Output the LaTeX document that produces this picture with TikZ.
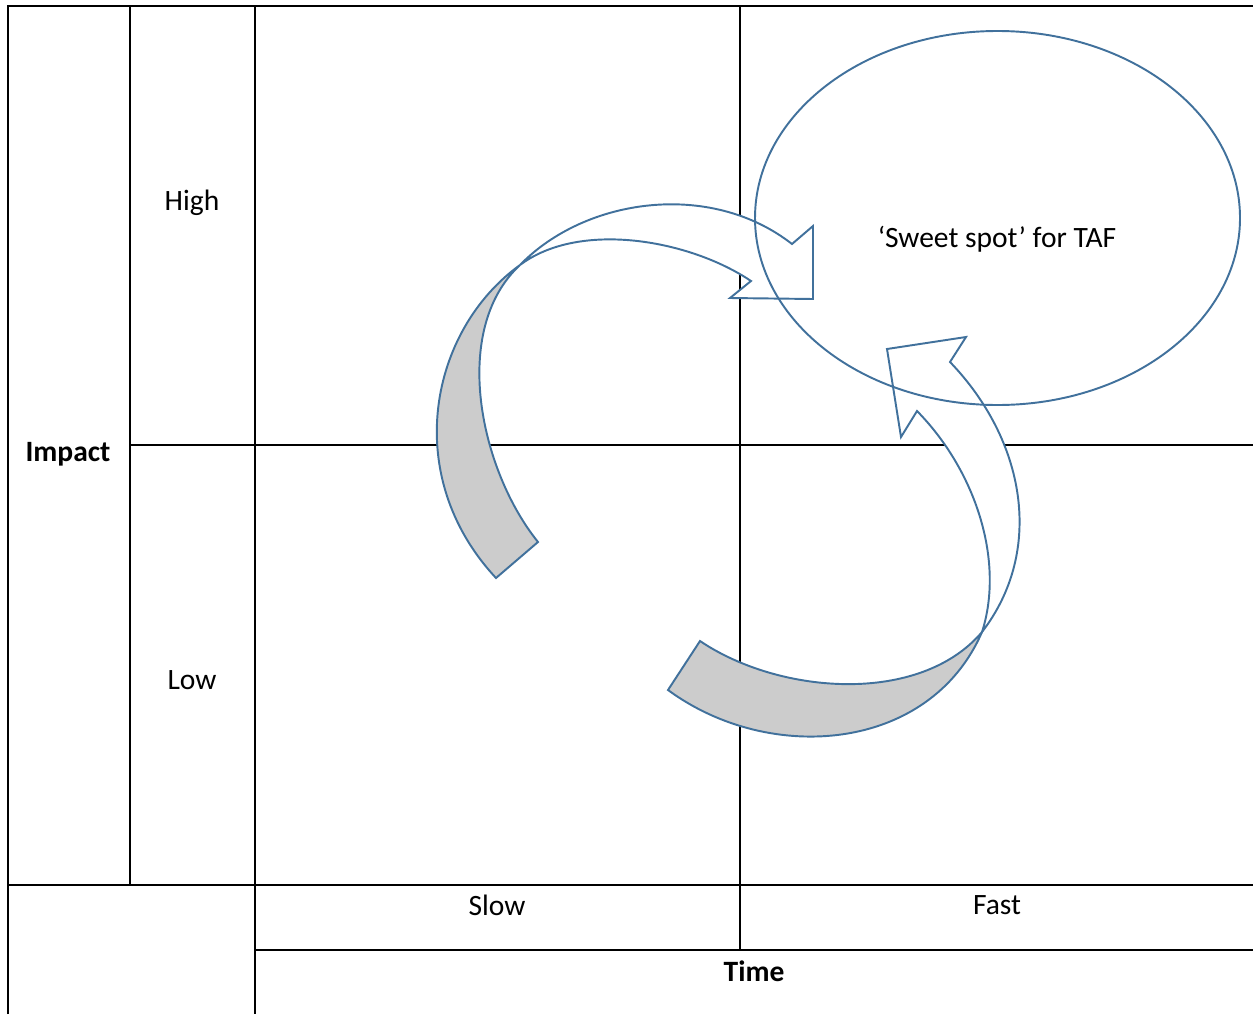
\documentclass[tikz,border=0pt]{standalone}
\usepackage{fontspec}
\setmainfont{Carlito}
\definecolor{ribbonblue}{RGB}{65,113,156}
\definecolor{ribbongrey}{RGB}{204,204,204}

\begin{document}
\begin{tikzpicture}[x=0.02cm, y=-0.02cm,
    font=\fontsize{16.8}{19}\selectfont,
    rule/.style={black, line width=1.1pt},
    front/.style={draw=ribbonblue, fill=white, line width=1.1pt, line join=miter},
    back/.style={draw=ribbonblue, fill=ribbongrey, line width=1.1pt, line join=miter}]
    \useasboundingbox (0,0) rectangle (1253,1014);

    % table rules
    \draw[rule] (8,1014) -- (8,6) -- (1253,6);
    \draw[rule] (130,6) -- (130,885);
    \draw[rule] (255,6) -- (255,1014);
    \draw[rule] (740,6) -- (740,950);
    \draw[rule] (130,445) -- (1253,445);
    \draw[rule] (8,885) -- (1253,885);
    \draw[rule] (255,950) -- (1253,950);

    % upper curved arrow
    \draw[back] (496,578) -- (538,542) .. controls (480,470) and (450,330) .. (520,265)
        .. controls (430,330) and (400,475) .. (496,578) -- cycle;
    \draw[front] (520,265) .. controls (585,198) and (710,180) .. (792,244)
        -- (813,226) -- (813,299) -- (730,298) -- (751,281)
        .. controls (690,240) and (580,220) .. (520,265) -- cycle;

    % lower curved arrow
    \draw[back] (668,690) -- (700,641) .. controls (780,695) and (920,705) .. (982,632)
        .. controls (930,752) and (770,765) .. (668,690) -- cycle;
    \draw[front] (982,632) .. controls (1045,550) and (1025,440) .. (950,362)
        -- (966,337) -- (887,349) -- (901,437) -- (917,411)
        .. controls (975,470) and (1005,560) .. (982,632) -- cycle;

    \draw[ribbonblue, line width=1.1pt] (997.5,218) ellipse [x radius=242.5, y radius=187];

    \node (spot) at (997,239) {‘Sweet spot’ for TAF};
    \node (high) at (192,203) {High};
    \node (low) at (192,680) {Low};
    \node[font=\fontsize{16.8}{19}\selectfont\bfseries] (impact) at (68,454) {Impact};
    \node (slow) at (497,905) {Slow};
    \node (fast) at (997,905) {Fast};
    \node[font=\fontsize{16.8}{19}\selectfont\bfseries] (time) at (754,971) {Time};
\end{tikzpicture}
\end{document}
